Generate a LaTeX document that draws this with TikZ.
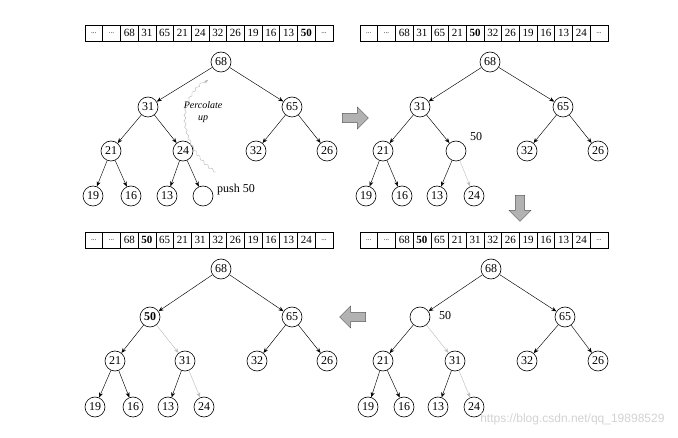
\documentclass[tikz,border=0pt]{standalone}
\usepackage{fontspec}
\setmainfont{Liberation Serif}
\newfontfamily\wmfont{Liberation Sans}
\usetikzlibrary{arrows.meta,shapes.arrows,decorations.pathmorphing}
\tikzset{
 hn/.style={circle,draw,line width=0.6pt,minimum size=20pt,inner sep=0pt,font=\fontsize{12}{12}\selectfont},
 ed/.style={-{Stealth[length=5pt,width=4pt]},line width=0.45pt},
 ged/.style={ed,draw=gray!50},
 cell/.style={draw,line width=0.5pt,minimum width=17.7pt,minimum height=16pt,inner sep=0pt,font=\fontsize{11}{11}\selectfont},
 bigarrow/.style={single arrow,draw=gray!70!black,fill=gray!60,minimum height=26pt,minimum width=22pt,single arrow head extend=3pt,inner sep=2pt},
 lab/.style={font=\fontsize{12}{12}\selectfont,inner sep=0pt}
}
\newcommand{\dts}{\raisebox{-2pt}{\fontsize{7}{7}\selectfont...}}
\begin{document}
\begin{tikzpicture}[x=1pt,y=-1pt]
\useasboundingbox (0,0) rectangle (678,438);
% arrays
\begin{scope}[shift={(85,33)}]
\foreach \v [count=\i] in {\dts,\dts,68,31,65,21,24,32,26,19,16,13,\textbf{50},\dts} \node[cell] (a\i) at (\i*17.7-8.85,0) {\v};
\end{scope}
\begin{scope}[shift={(360,33)}]
\foreach \v [count=\i] in {\dts,\dts,68,31,65,21,\textbf{50},32,26,19,16,13,24,\dts} \node[cell] (b\i) at (\i*17.7-8.85,0) {\v};
\end{scope}
\begin{scope}[shift={(85,240)}]
\foreach \v [count=\i] in {\dts,\dts,68,\textbf{50},65,21,31,32,26,19,16,13,24,\dts} \node[cell] (c\i) at (\i*17.7-8.85,0) {\v};
\end{scope}
\begin{scope}[shift={(360,240)}]
\foreach \v [count=\i] in {\dts,\dts,68,\textbf{50},65,21,31,32,26,19,16,13,24,\dts} \node[cell] (d\i) at (\i*17.7-8.85,0) {\v};
\end{scope}
% tree A
\node[hn] (A1) at (221,62) {68};
\node[hn] (A2) at (148,107) {31};
\node[hn] (A3) at (292,107) {65};
\node[hn] (A4) at (111,151) {21};
\node[hn] (A5) at (183,151) {24};
\node[hn] (A6) at (256,151) {32};
\node[hn] (A7) at (327,151) {26};
\node[hn] (A8) at (93,196) {19};
\node[hn] (A9) at (131,196) {16};
\node[hn] (A10) at (167,196) {13};
\node[hn] (A11) at (203,196) {};
\foreach \p/\c in {1/2,1/3,2/4,2/5,3/6,3/7,4/8,4/9,5/10,5/11} \draw[ed] (A\p) -- (A\c);
\node[lab,anchor=west] (pushlab) at (217,190) {push 50};
\node[font=\itshape\fontsize{10}{12}\selectfont,align=center] (perc) at (203,112) {Percolate\\up};
\coordinate (pw1) at (216,172);
\coordinate (pw2) at (208,80);
\draw[gray!60,line width=0.4pt,decorate,decoration={snake,amplitude=1pt,segment length=6pt,post length=4pt},-{Stealth[length=4pt]}] (pw1) .. controls (195,160) and (165,110) .. (pw2);
% tree B
\node[hn] (B1) at (490,62) {68};
\node[hn] (B2) at (420,107) {31};
\node[hn] (B3) at (563,107) {65};
\node[hn] (B4) at (383,151) {21};
\node[hn] (B5) at (456,151) {};
\node[hn] (B6) at (527,151) {32};
\node[hn] (B7) at (598,151) {26};
\node[hn] (B8) at (366,196) {19};
\node[hn] (B9) at (402,196) {16};
\node[hn] (B10) at (437,196) {13};
\node[hn] (B11) at (474,196) {24};
\foreach \p/\c in {1/2,1/3,2/4,2/5,3/6,3/7,4/8,4/9,5/10} \draw[ed] (B\p) -- (B\c);
\draw[ged] (B5) -- (B11);
\node[lab] (b50) at (476,137) {50};
% tree C
\node[hn] (C1) at (221,269) {68};
\node[hn,font=\bfseries\fontsize{12}{12}\selectfont] (C2) at (150,317) {50};
\node[hn] (C3) at (292,317) {65};
\node[hn] (C4) at (115,361) {21};
\node[hn] (C5) at (185,361) {31};
\node[hn] (C6) at (257,361) {32};
\node[hn] (C7) at (327,361) {26};
\node[hn] (C8) at (95,407) {19};
\node[hn] (C9) at (133,407) {16};
\node[hn] (C10) at (168,407) {13};
\node[hn] (C11) at (204,407) {24};
\foreach \p/\c in {1/2,1/3,2/4,3/6,3/7,4/8,4/9,5/10} \draw[ed] (C\p) -- (C\c);
\draw[ged] (C2) -- (C5);
\draw[ged] (C5) -- (C11);
% tree D
\node[hn] (D1) at (491,269) {68};
\node[hn] (D2) at (420,317) {};
\node[hn] (D3) at (565,317) {65};
\node[hn] (D4) at (383,361) {21};
\node[hn] (D5) at (455,361) {31};
\node[hn] (D6) at (527,361) {32};
\node[hn] (D7) at (598,361) {26};
\node[hn] (D8) at (368,407) {19};
\node[hn] (D9) at (404,407) {16};
\node[hn] (D10) at (438,407) {13};
\node[hn] (D11) at (474,407) {24};
\foreach \p/\c in {1/2,1/3,2/4,3/6,3/7,4/8,4/9,5/10} \draw[ed] (D\p) -- (D\c);
\draw[ged] (D2) -- (D5);
\draw[ged] (D5) -- (D11);
\node[lab] (d50) at (445,316) {50};
% big arrows
\node[bigarrow] (ar1) at (353,118) {};
\node[bigarrow,shape border rotate=270] (ar2) at (520,206) {};
\node[bigarrow,shape border rotate=180] (ar3) at (355,317) {};
% watermark
\node[font=\wmfont\fontsize{12}{12}\selectfont,text=gray!35,anchor=east] (wm) at (668,419) {https://blog.csdn.net/qq\_19898529};
\end{tikzpicture}
\end{document}
